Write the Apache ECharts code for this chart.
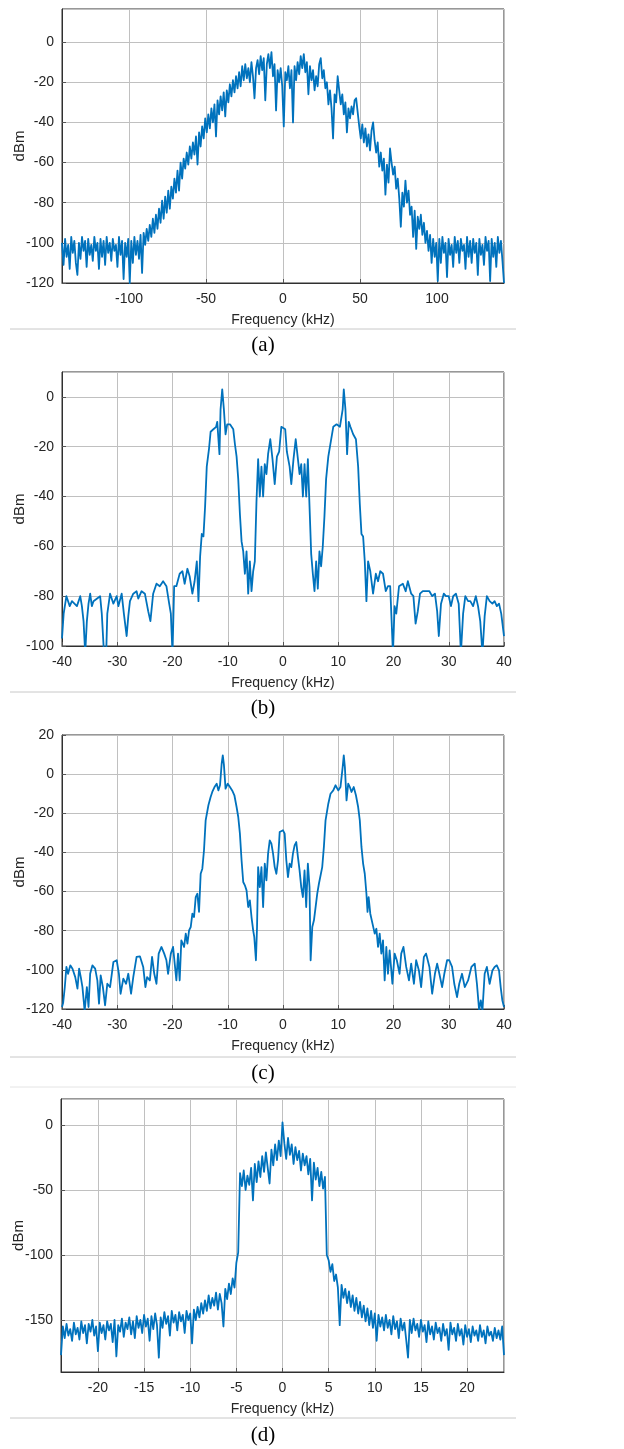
<!DOCTYPE html>
<html><head><meta charset="utf-8">
<script src="https://cdn.jsdelivr.net/npm/echarts@6.0.0/dist/echarts.min.js"></script>
<style>html,body{margin:0;padding:0;background:#fff}#c{width:624px;height:1449px}</style>
</head><body><div id="c"></div>
<script>
// ---------- DATA ----------
const xLabel = 'Frequency (kHz)';
const yLabel = 'dBm';
const captions = ['(a)', '(b)', '(c)', '(d)'];

// (a) uniform frequency bins, 1 kHz apart
const freqStartA = -143.5, freqStepA = 1;
const levelA = [
-100,-111,-98,-107,-101,-113,-97,-105,-99,-110,-116,-100,
-108,-97,-104,-99,-112,-98,-106,-101,-109,-97,-104,-100,
-113,-98,-107,-99,-111,-97,-105,-100,-109,-98,-104,-101,
-112,-97,-106,-99,-118,-100,-107,-98,-120,-99,-110,-97,
-106,-99,-108,-96,-115,-95,-101,-93,-99,-91,-97,-88,
-95,-86,-93,-83,-90,-79,-88,-77,-85,-74,-83,-72,
-78,-68,-75,-64,-74,-60,-68,-58,-63,-55,-61,-52,
-58,-50,-56,-47,-61,-45,-52,-42,-48,-38,-45,-36,
-43,-33,-40,-31,-47,-29,-36,-27,-34,-25,-37,-24,
-30,-21,-27,-19,-25,-17,-23,-15,-22,-12,-19,-11,
-18,-13,-20,-10,-17,-28,-13,-9,-16,-7,-14,-8,
-29,-11,-6,-13,-5,-17,-11,-34,-14,-20,-13,-22,
-42,-15,-19,-12,-23,-14,-40,-12,-19,-10,-16,-7,
-13,-6,-15,-10,-26,-12,-19,-14,-24,-17,-22,-11,
-8,-18,-14,-23,-20,-31,-24,-33,-48,-26,-30,-17,
-24,-31,-26,-36,-30,-45,-33,-38,-32,-36,-29,-28,
-35,-42,-48,-41,-50,-43,-52,-46,-54,-44,-40,-49,
-55,-50,-62,-55,-64,-58,-76,-61,-70,-53,-60,-66,
-62,-73,-68,-78,-92,-75,-82,-69,-80,-74,-86,-82,
-97,-84,-103,-87,-93,-86,-96,-90,-100,-94,-104,-96,
-110,-98,-107,-100,-119,-98,-110,-97,-105,-100,-117,-98,
-106,-101,-112,-97,-105,-99,-110,-98,-104,-101,-113,-97,
-107,-99,-110,-98,-105,-100,-116,-98,-106,-101,-111,-97,
-104,-99,-119,-98,-107,-100,-112,-97,-105,-99,-109,-120
];

// (b)
const freqB = [
-40,-39.7,-39.2,-38.6,-38.2,-37.9,-37.3,-36.7,-36.4,-36.1,-35.8,-35.5,-35.2,-34.9,-34.6,-34.3,-33.7,-33.1,-32.8,-32.4,
-32,-31.8,-31.3,-30.7,-30.1,-29.8,-29.2,-28.8,-28.3,-28,-27.7,-27.1,-26.5,-26.2,-25.6,-25,-24.4,-24,-23.5,-22.9,
-22.3,-21.7,-21.1,-20.6,-20.3,-20,-19.7,-19.3,-18.7,-18.2,-17.8,-17.3,-16.9,-16.4,-16,-15.6,-15.3,-15,-14.7,-14.4,
-14.1,-13.8,-13.4,-13.1,-12.6,-12.1,-11.9,-11.5,-11.3,-11,-10.7,-10.4,-10.1,-9.6,-9,-8.7,-8.4,-8.1,-7.8,-7.5,
-7.2,-6.9,-6.6,-6.3,-6,-5.7,-5.4,-5.1,-4.8,-4.5,-4.2,-3.9,-3.6,-3.3,-3,-2.7,-2.3,-1.9,-1.5,-1.1,
-0.7,-0.3,0,0.4,0.7,1.2,1.5,1.9,2.3,2.7,3,3.3,3.6,3.9,4.2,4.5,4.8,5.1,5.4,5.7,
6,6.3,6.6,6.9,7.2,7.5,7.8,8.2,8.5,9.1,9.7,10.3,10.8,11,11.3,11.6,11.9,12.2,12.7,13.2,
13.6,13.9,14.2,14.5,14.8,15.1,15.4,15.8,16.3,16.8,17.2,17.6,18.1,18.6,19,19.4,19.9,20.2,20.5,21,
21.7,22.2,22.6,23.2,23.6,24,24.4,24.8,25.3,25.9,26.5,27,27.5,27.9,28.2,28.6,29.1,29.5,30,30.4,
30.8,31.3,31.8,32.2,32.6,33,33.5,33.9,34.4,34.9,35.3,35.7,36.1,36.5,36.9,37.4,37.9,38.3,38.7,39.1,
39.5,40
];
const levelB = [
-97,-87,-80,-84,-82,-82,-84,-80,-84,-90,-103,-90,-83,-79,-84,-82,-81,-80,-87,-103,
-103,-87,-79,-83,-80,-84,-79,-87,-96,-88,-82,-79,-78,-81,-78,-79,-86,-90,-79,-75,
-76,-74,-76,-83,-87,-103,-76,-76,-71,-70,-75,-69,-72,-79,-74,-66,-82,-64,-55,-56,
-44,-28,-21,-14,-13,-12,-10,-23,-5,3,-5,-15,-11,-11,-13,-19,-24,-33,-47,-58,
-62,-71,-62,-79,-66,-78,-70,-66,-42,-25,-40,-28,-40,-27,-31,-23,-17,-25,-35,-24,
-22,-12,-12,-13,-22,-28,-35,-25,-17,-25,-31,-27,-40,-27,-40,-25,-44,-63,-71,-78,
-66,-77,-62,-68,-60,-48,-33,-24,-20,-12,-11,-12,-5,3,-5,-23,-10,-12,-15,-17,
-28,-43,-55,-56,-66,-82,-66,-70,-79,-71,-74,-70,-71,-78,-76,-76,-103,-84,-87,-76,
-75,-78,-74,-79,-80,-91,-86,-79,-78,-78,-78,-80,-79,-86,-96,-83,-79,-80,-80,-84,
-80,-79,-83,-103,-87,-80,-82,-82,-84,-80,-84,-90,-103,-88,-80,-82,-83,-82,-84,-83,
-87,-96
];

// (c)
const freqC = [
-40,-39.8,-39.5,-39.2,-38.9,-38.5,-38.1,-37.6,-37.2,-36.9,-36.6,-36.3,-35.9,-35.5,-35.2,-34.9,-34.5,-34,-33.6,-33.3,
-33,-32.6,-32.2,-31.8,-31.3,-30.7,-30.1,-29.7,-29.4,-28.9,-28.4,-28,-27.5,-27.1,-26.5,-25.9,-25.3,-24.9,-24.6,-24.1,
-23.7,-23.3,-22.9,-22.5,-22,-21.5,-21.1,-20.8,-20.3,-19.9,-19.6,-19.3,-19,-18.7,-18.4,-17.9,-17.6,-17.3,-17,-16.7,
-16.4,-16.1,-15.8,-15.5,-15.2,-14.9,-14.6,-14.3,-14,-13.5,-13.1,-12.8,-12.4,-12,-11.7,-11.4,-11.1,-10.9,-10.7,-10.4,
-10,-9.6,-9.2,-8.8,-8.4,-8.1,-7.8,-7.5,-7.2,-6.9,-6.6,-6.3,-6,-5.7,-5.4,-5.2,-4.9,-4.7,-4.5,-4.2,
-3.9,-3.6,-3.3,-3,-2.7,-2.4,-2.1,-1.8,-1.5,-1.2,-0.9,-0.6,-0.3,0,0.3,0.6,0.9,1.2,1.5,1.8,
2.1,2.4,2.7,3,3.3,3.6,3.9,4.2,4.5,4.8,5,5.3,5.6,5.9,6.2,6.5,6.8,7.1,7.4,7.7,
8.2,8.6,9.1,9.5,10,10.4,10.8,11,11.2,11.5,11.8,12.1,12.4,12.8,13.2,13.6,13.9,14.2,14.5,14.8,
15.1,15.3,15.5,15.8,16.2,16.6,16.9,17.2,17.5,17.8,18.1,18.4,18.7,19,19.3,19.8,20.2,20.6,21.1,21.4,
21.8,22.3,22.8,23.2,23.7,24.1,24.6,25,25.5,25.9,26.5,27,27.5,27.9,28.3,28.8,29.2,29.7,30.1,30.6,
31,31.5,31.9,32.4,32.9,33.5,34.1,34.7,35.1,35.5,35.8,36.1,36.5,36.9,37.4,37.9,38.3,38.7,39.1,39.4,
39.7,40
];
const levelC = [
-119,-117,-109,-98.5,-102,-97.7,-99.4,-103.7,-109.6,-99.4,-103.7,-108.8,-121,-108.8,-119,-102,-97.7,-99.4,-105.4,-117.3,
-102.8,-108.8,-118.1,-107.1,-108.8,-96,-95.1,-102,-112.2,-104.5,-107.1,-102,-112.2,-103.7,-93.4,-93.1,-98.5,-108.8,-103.7,-105.4,
-93.4,-102,-107.1,-91.7,-88.3,-91.7,-95.1,-102,-91.7,-88.3,-96.8,-105.4,-91.7,-105.4,-84.9,-88.3,-81.5,-86.6,-79.8,-78.1,
-71.3,-73,-62.8,-61.1,-70.4,-50.9,-48.3,-38.9,-23.6,-15.9,-11.7,-9.1,-6.6,-4.9,-8.3,-5.7,5.4,9.6,5,-7.4,
-4.9,-6.6,-8.3,-10.8,-16.8,-21.9,-30.4,-44,-55.1,-56.8,-59.4,-67.9,-64.5,-73,-79.8,-83.2,-95.1,-78.1,-47.5,-57.7,
-47.5,-67.9,-45.7,-54.3,-40.6,-33.8,-35.5,-40.6,-47.5,-50.9,-44,-29.6,-28.7,-28.7,-30.4,-44,-52.6,-45.7,-47.5,-40.6,
-36.4,-34.7,-42.3,-49.2,-57.7,-62.8,-49.2,-67.9,-45.7,-57.7,-95.1,-78.1,-74.7,-67.9,-61.1,-56,-55.1,-47.5,-37.2,-23.6,
-15.1,-10,-8.3,-5.7,-8.3,-6.6,3.6,9.6,3.6,-13.4,-4.9,-6.6,-9.1,-6.6,-10.8,-16.8,-23.6,-37.2,-45.7,-50.9,
-61.1,-70.4,-62.8,-71.3,-76.4,-81.5,-79,-88.3,-81.5,-91.7,-84.9,-105.4,-88.3,-102,-90,-107.1,-91.7,-95.1,-102,-91.7,
-88.3,-98.5,-105.4,-96.8,-107.1,-95.1,-100.3,-108.8,-93.4,-91.7,-98.5,-112.2,-102,-96.8,-102,-108.8,-102,-95.1,-95.1,-98.5,
-107.1,-113.9,-107.1,-102,-108.8,-105.4,-98.5,-96.8,-107.1,-120.7,-115.6,-120.7,-102,-98.5,-107.1,-100.3,-98.5,-97.7,-100.3,-108.8,
-115.6,-119
];

// (d) uniform frequency bins, 0.2 kHz apart
const freqStartD = -24, freqStepD = 0.2;
const levelD = [
-177,-155,-164,-153,-162,-157,-166,-152,-161,-156,-165,-151,
-160,-154,-168,-153,-159,-150,-162,-155,-174,-152,-160,-154,
-165,-151,-158,-153,-167,-150,-178,-154,-159,-149,-163,-152,
-157,-148,-161,-151,-164,-147,-156,-150,-160,-146,-155,-149,
-166,-147,-157,-145,-154,-179,-148,-156,-144,-153,-147,-162,
-143,-152,-146,-158,-144,-151,-146,-160,-143,-150,-145,-168,
-142,-150,-140,-148,-137,-145,-135,-143,-131,-141,-133,-139,
-129,-142,-130,-137,-155,-126,-134,-122,-130,-118,-125,-106,
-98,-37,-47,-35,-50,-39,-46,-33,-58,-30,-44,-28,
-40,-24,-36,-21,-33,-45,-19,-31,-15,-27,-12,-24,
2,-14,-26,-10,-23,-15,-30,-17,-27,-20,-35,-22,
-31,-24,-38,-26,-58,-29,-42,-33,-47,-36,-49,-40,
-100,-104,-113,-107,-120,-115,-125,-154,-123,-133,-126,-137,
-128,-140,-131,-143,-133,-145,-136,-148,-139,-151,-141,-154,
-143,-156,-145,-166,-146,-155,-148,-158,-146,-156,-150,-161,
-147,-157,-151,-164,-149,-158,-152,-165,-179,-150,-160,-149,
-158,-153,-163,-150,-159,-154,-167,-151,-161,-155,-165,-152,
-160,-156,-166,-153,-162,-157,-173,-152,-161,-156,-166,-153,
-162,-157,-169,-154,-163,-157,-167,-155,-162,-158,-166,-154,
-163,-158,-168,-155,-162,-159,-166,-156,-164,-158,-165,-155,
-177
];

// ---------- BUILD ----------
const pairsUniform = (start, step, vals) => vals.map((v, i) => [+(start + i * step).toFixed(3), v]);
const pairs = (xs, ys) => xs.map((x, i) => [x, ys[i]]);

const panels = [
  {grid:{left:62, top:9,    width:442, height:274}, x:[-143.5,143.5,50], y:[-120,16.5,20],
   data: pairsUniform(freqStartA, freqStepA, levelA), hideXEnds:true,  hideYMin:false, hideYMax:true, lw:1.8},
  {grid:{left:62, top:372,  width:442, height:274}, x:[-40,40,10], y:[-100,10,20],
   data: pairs(freqB, levelB), hideXEnds:false, hideYMin:false, hideYMax:true, lw:1.8},
  {grid:{left:62, top:735,  width:442, height:274}, x:[-40,40,10], y:[-120,20,20],
   data: pairs(freqC, levelC), hideXEnds:false, hideYMin:false, hideYMax:false, lw:1.8},
  {grid:{left:61, top:1099, width:443, height:273}, x:[-24,24,5], y:[-190,20,50],
   data: pairsUniform(freqStartD, freqStepD, levelD), hideXEnds:true, hideYMin:true, hideYMax:true, lw:1.8}
];

const FONT = 'Liberation Sans, Arial, Helvetica, sans-serif';
const TXT = '#262626';
const GRIDC = '#c0c0c0';
const BOX = '#303030';

const option = {
  animation:false,
  backgroundColor:'#ffffff',
  grid:[], xAxis:[], yAxis:[], series:[], graphic:[]
};

panels.forEach((p, k) => {
  option.grid.push(Object.assign({show:true, borderColor:BOX, borderWidth:1, containLabel:false, outerBoundsMode:'none', backgroundColor:'#fff'}, p.grid));
  option.xAxis.push({
    type:'value', gridIndex:k, min:p.x[0], max:p.x[1], minInterval:p.x[2], maxInterval:p.x[2], splitNumber:20,
    name:xLabel, nameLocation:'middle', nameGap:30, nameMoveOverlap:false,
    nameTextStyle:{fontFamily:FONT, fontSize:14, color:TXT},
    axisLine:{show:true, onZero:false, lineStyle:{color:BOX, width:1}},
    axisTick:{show:true, inside:true, length:4, lineStyle:{color:'#555'}},
    axisLabel:{fontFamily:FONT, fontSize:14, color:TXT, margin:9,
      showMinLabel:!p.hideXEnds, showMaxLabel:!p.hideXEnds},
    splitLine:{show:true, lineStyle:{color:GRIDC, width:1}}
  });
  option.yAxis.push({
    type:'value', gridIndex:k, min:p.y[0], max:p.y[1], minInterval:p.y[2], maxInterval:p.y[2], splitNumber:20,
    name:yLabel, nameLocation:'middle', nameGap:35, nameMoveOverlap:false,
    nameTextStyle:{fontFamily:FONT, fontSize:15, color:TXT},
    axisLine:{show:true, onZero:false, lineStyle:{color:BOX, width:1}},
    axisTick:{show:true, inside:true, length:4, lineStyle:{color:'#555'}},
    axisLabel:{fontFamily:FONT, fontSize:14, color:TXT, margin:8,
      showMinLabel:!p.hideYMin, showMaxLabel:!p.hideYMax},
    splitLine:{show:true, lineStyle:{color:GRIDC, width:1}}
  });
  option.series.push({
    type:'line', xAxisIndex:k, yAxisIndex:k, data:p.data, showSymbol:false, symbol:'none',
    clip:true, smooth:false, lineStyle:{color:'#0072BD', width:p.lw, join:'round'}, silent:true
  });
});

// separators & captions (layout only)
const sepYs = [329, 692, 1057, 1087, 1418];
sepYs.forEach((y, i) => option.graphic.push({type:'line', silent:true,
  shape:{x1:10, y1:y, x2:516, y2:y}, style:{stroke: i === 3 ? '#e4e4e4' : '#c8c8c8', lineWidth:1}}));
const capYs = [345, 708, 1073, 1435];
captions.forEach((c, i) => option.graphic.push({type:'text', silent:true, x:263, y:capYs[i],
  style:{text:c, fontFamily:'Liberation Serif, Times New Roman, serif', fontSize:21, fill:'#000',
    align:'center', verticalAlign:'middle', textAlign:'center', textVerticalAlign:'middle'}}));

const chart = echarts.init(document.getElementById('c'), null, {renderer:'canvas', width:624, height:1449});
chart.setOption(option);
</script></body></html>
